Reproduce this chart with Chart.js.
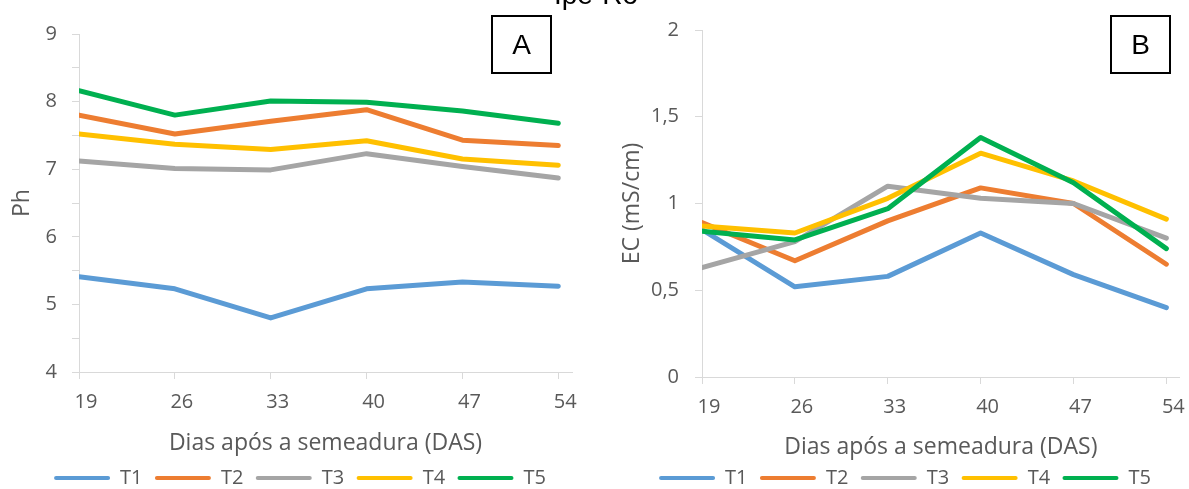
<!DOCTYPE html>
<html>
<head>
<meta charset="utf-8">
<script src="https://cdn.jsdelivr.net/npm/chart.js@4.4.1/dist/chart.umd.min.js"></script>
<style>
  html, body { margin: 0; padding: 0; background: #fff; overflow: hidden; }
  #wrap { position: relative; width: 1189px; height: 489px; overflow: hidden; background: #fff; }
  canvas { position: absolute; top: 0; }
  #phCanvas { left: 0; }
  #ecCanvas { left: 595px; }
  .tag {
    position: absolute; top: 15px; width: 57px; height: 55px;
    border: 2px solid #000; color: #000;
    font: 28px "Liberation Sans", Arial, sans-serif;
    display: flex; align-items: center; justify-content: center;
  }
  #tagA { left: 491px; }
  #tagB { left: 1110px; }
  #mainTitle {
    position: absolute; top: -19px; left: 496px; width: 200px;
    text-align: center; font: 28px/28px "Liberation Sans", Arial, sans-serif; color: #000;
  }
</style>
</head>
<body>
<div id="wrap">
  <canvas id="phCanvas" width="595" height="498"></canvas>
  <canvas id="ecCanvas" width="594" height="498"></canvas>
  <div id="mainTitle">Ipe-Ro</div>
  <div class="tag" id="tagA">A</div>
  <div class="tag" id="tagB">B</div>
</div>
<script>
// Sampling days (DAS)
const days = [19, 26, 33, 40, 47, 54];
const treatments = ['T1', 'T2', 'T3', 'T4', 'T5'];
const colors = ['#5B9BD5', '#ED7D31', '#A5A5A5', '#FFC000', '#00B050'];

// pH per treatment
const phT1 = [5.41, 5.23, 4.80, 5.23, 5.33, 5.27];
const phT2 = [7.80, 7.52, 7.71, 7.88, 7.43, 7.35];
const phT3 = [7.12, 7.01, 6.99, 7.23, 7.04, 6.87];
const phT4 = [7.52, 7.37, 7.29, 7.42, 7.15, 7.06];
const phT5 = [8.16, 7.80, 8.01, 7.99, 7.86, 7.68];

// Electrical conductivity (mS/cm) per treatment
const ecT1 = [0.85, 0.52, 0.58, 0.83, 0.59, 0.40];
const ecT2 = [0.89, 0.67, 0.90, 1.09, 1.00, 0.65];
const ecT3 = [0.63, 0.78, 1.10, 1.03, 1.00, 0.80];
const ecT4 = [0.87, 0.83, 1.03, 1.29, 1.13, 0.91];
const ecT5 = [0.84, 0.79, 0.97, 1.38, 1.12, 0.74];

const FONT = '"Open Sans", "Noto Sans", sans-serif';
const GREY_TEXT = '#595959';
const AXIS_GREY = '#d9d9d9';
const TICK_SIZE = 20;
const TITLE_SIZE = 23;

function buildDatasets(series) {
  return treatments.map((name, i) => ({
    label: name,
    data: days.map((d, j) => ({ x: d, y: series[i][j] })),
    borderColor: colors[i],
    backgroundColor: colors[i],
    borderWidth: 5,
    borderCapStyle: 'round',
    borderJoinStyle: 'round',
    pointRadius: 0,
    tension: 0,
    order: treatments.length - 1 - i
  }));
}

function makeChart(canvas, opts) {
  return new Chart(canvas, {
    type: 'line',
    data: { datasets: buildDatasets(opts.series) },
    options: {
      responsive: false,
      animation: false,
      devicePixelRatio: 1,
      layout: { autoPadding: false, padding: opts.padding },
      plugins: {
        tooltip: { enabled: false },
        legend: {
          position: 'bottom',
          labels: {
            boxWidth: 56,
            boxHeight: 4,
            padding: 12.4,
            color: GREY_TEXT,
            font: { family: FONT, size: TICK_SIZE },
            sort: (a, b) => a.datasetIndex - b.datasetIndex,
            generateLabels(chart) {
              const items = Chart.defaults.plugins.legend.labels.generateLabels(chart);
              items.forEach(it => {
                it.lineWidth = 0;
                it.fillStyle = it.strokeStyle;
                it.borderRadius = 2;
              });
              return items;
            }
          }
        }
      },
      scales: {
        x: {
          type: 'linear',
          min: 19,
          max: 55,
          afterBuildTicks(scale) { scale.ticks = days.map(v => ({ value: v })); },
          afterFit(scale) { scale.height = opts.xHeight; },
          grid: { drawOnChartArea: false, drawTicks: true, tickLength: 7, color: AXIS_GREY },
          border: { display: true, color: AXIS_GREY, width: 1 },
          ticks: {
            autoSkip: false, maxRotation: 0, padding: 11, labelOffset: 7,
            color: GREY_TEXT, font: { family: FONT, size: TICK_SIZE }
          },
          title: {
            display: true, text: 'Dias após a semeadura (DAS)',
            color: GREY_TEXT, font: { family: FONT, size: TITLE_SIZE },
            padding: { top: 0, bottom: opts.xTitlePad }
          }
        },
        y: {
          min: opts.yMin,
          max: opts.yMax,
          afterFit(scale) { scale.width = opts.yWidth; },
          grid: { drawOnChartArea: false, drawTicks: true, tickLength: 7, color: AXIS_GREY },
          border: { display: true, color: AXIS_GREY, width: 1 },
          ticks: {
            stepSize: 0.5, padding: opts.yTickPad,
            color: GREY_TEXT, font: { family: FONT, size: TICK_SIZE },
            callback: opts.yFormat
          },
          title: {
            display: true, text: opts.yTitle,
            color: GREY_TEXT, font: { family: FONT, size: TITLE_SIZE },
            padding: { top: opts.yTitlePad, bottom: 0 }
          }
        }
      }
    }
  });
}

makeChart(document.getElementById('phCanvas'), {
  series: [phT1, phT2, phT3, phT4, phT5],
  padding: { left: 28, right: 23, top: 34, bottom: 0 },
  yWidth: 51,
  xHeight: 83.6,
  xTitlePad: -1.2,
  yMin: 4, yMax: 9,
  yTickPad: 15,
  yTitle: 'Ph',
  yTitlePad: -19.8,
  yFormat: v => (Number.isInteger(v) ? String(v) : '')
});

makeChart(document.getElementById('ecCanvas'), {
  series: [ecT1, ecT2, ecT3, ecT4, ecT5],
  padding: { left: 33, right: 7, top: 30, bottom: 0 },
  yWidth: 74,
  xHeight: 78.6,
  xTitlePad: -5.2,
  yMin: 0, yMax: 2,
  yTickPad: 16,
  yTitle: 'EC (mS/cm)',
  yTitlePad: -9.8,
  yFormat: v => String(v).replace('.', ',')
});
</script>
</body>
</html>
